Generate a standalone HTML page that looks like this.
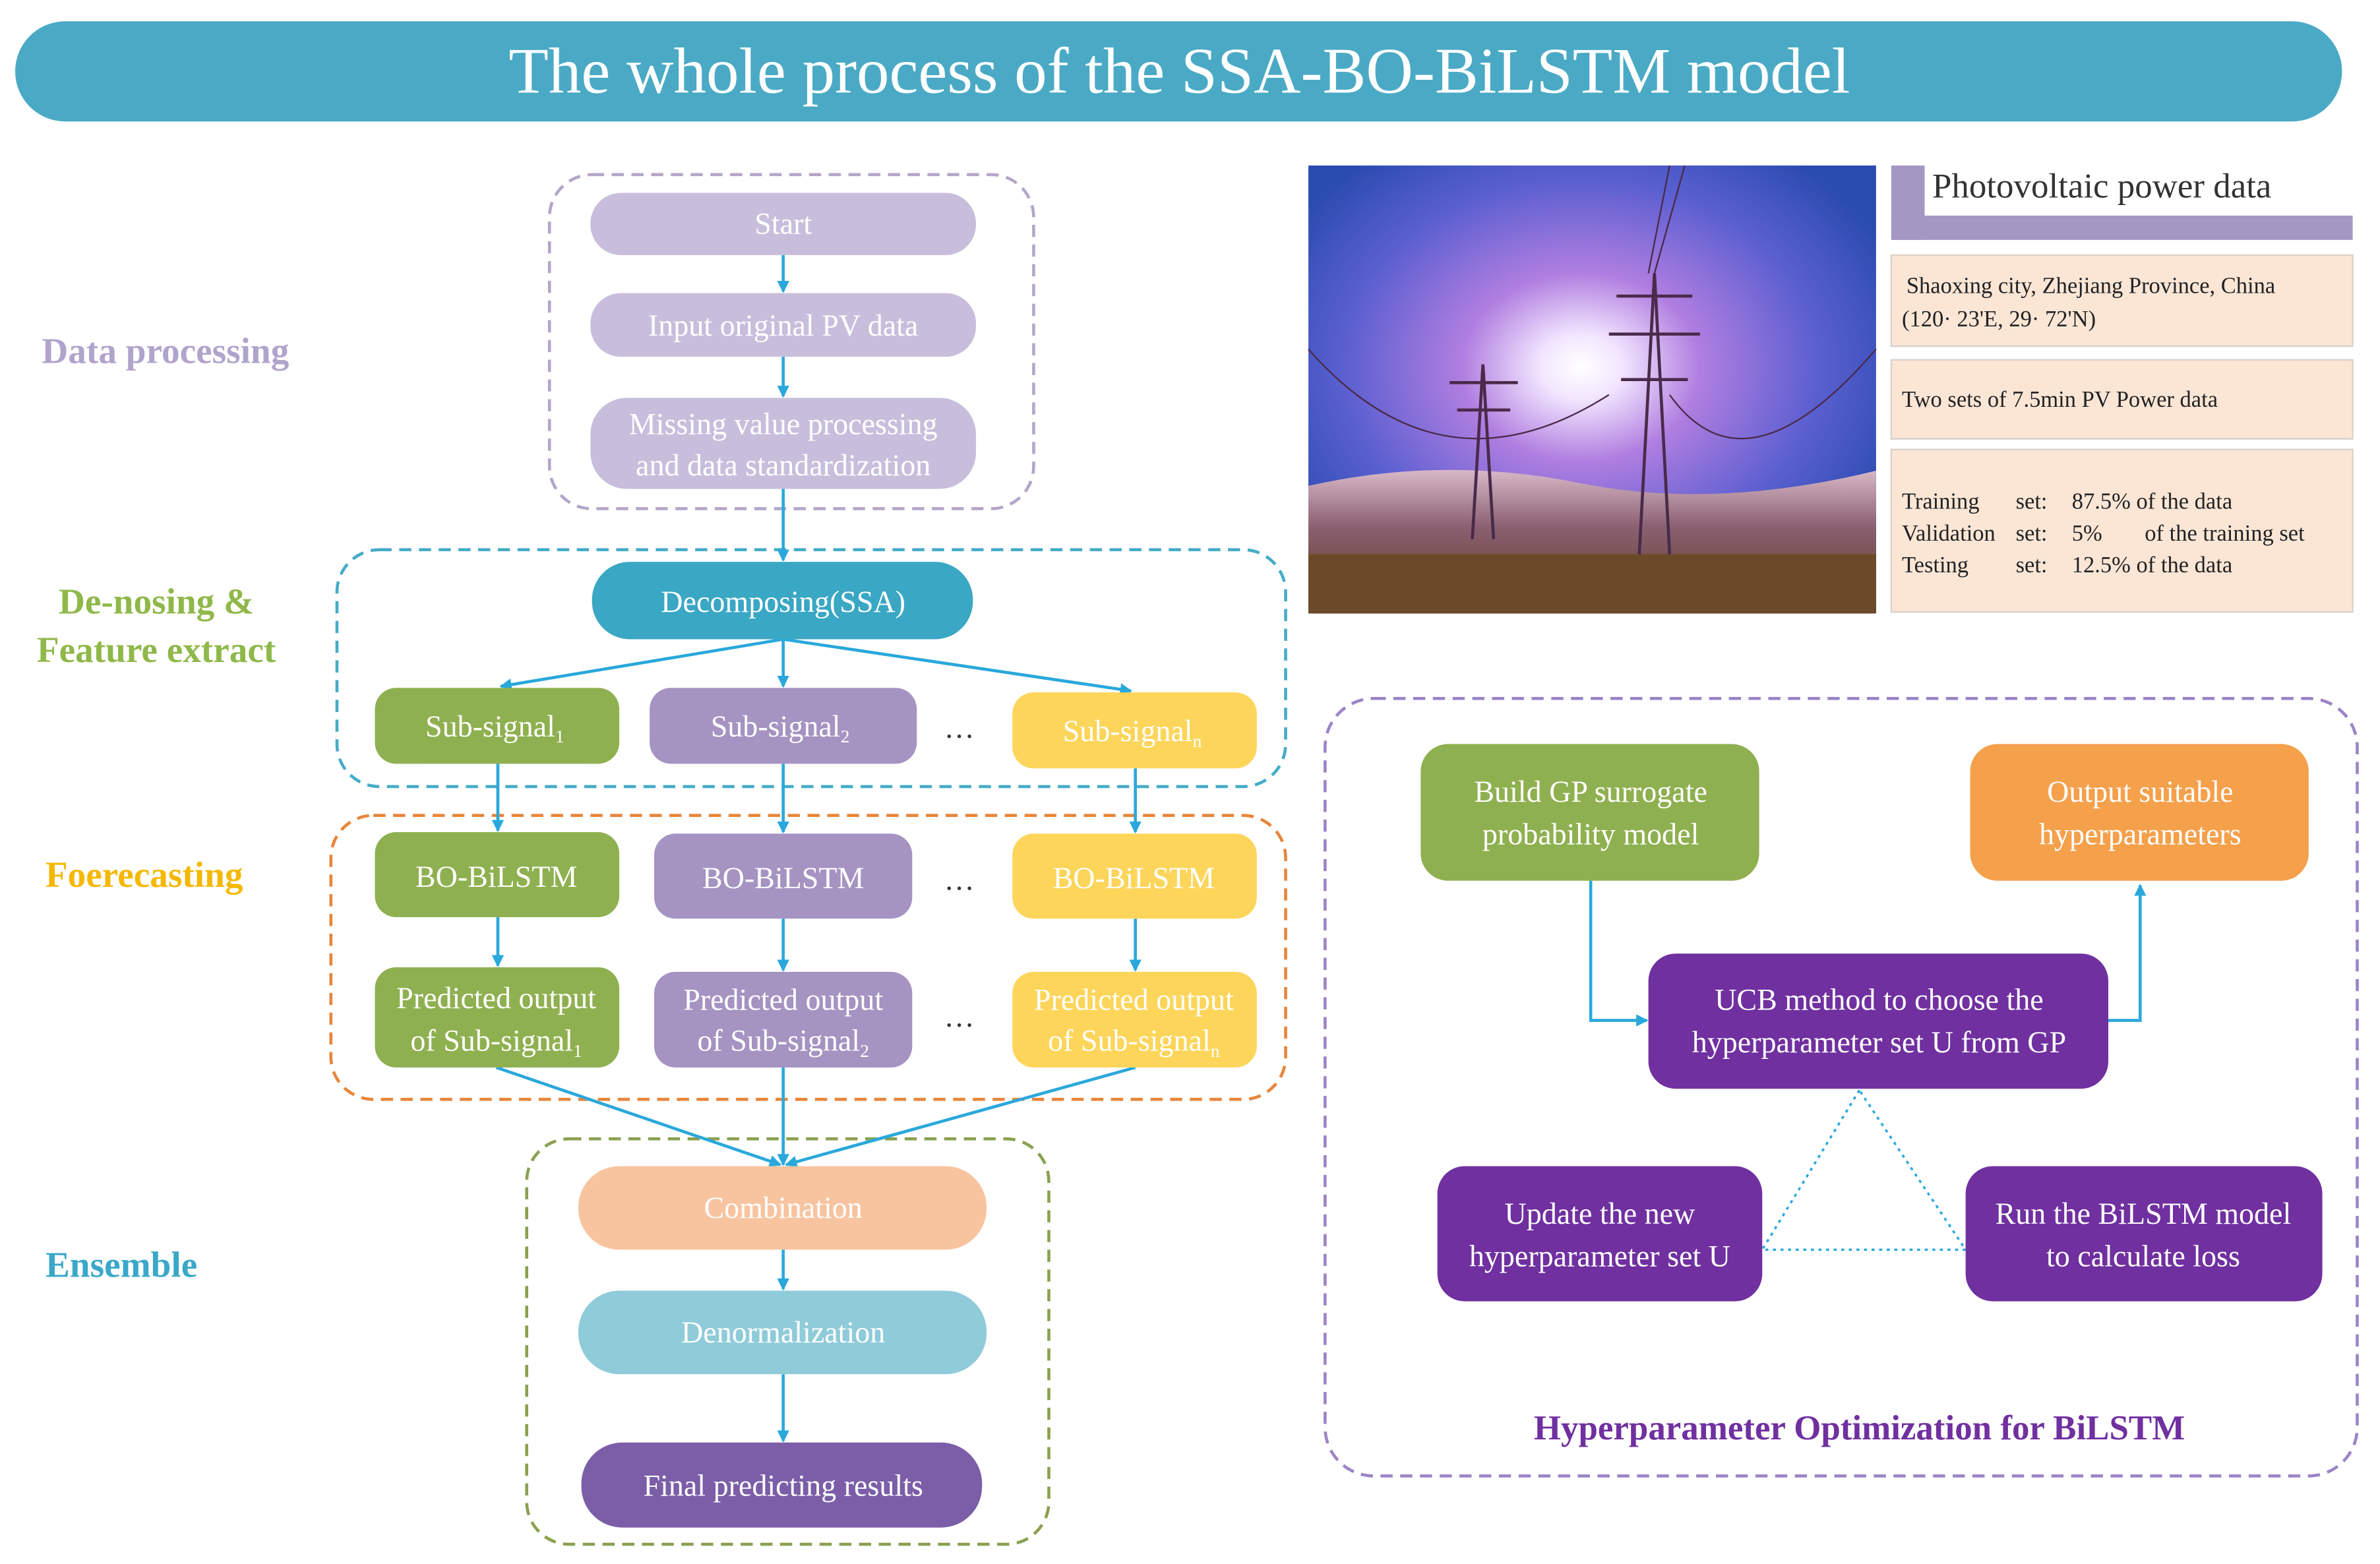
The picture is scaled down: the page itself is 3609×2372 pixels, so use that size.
<!DOCTYPE html>
<html><head><meta charset="utf-8"><style>
html,body{margin:0;padding:0;background:#fff;}
svg{display:block;}
text{font-family:"Liberation Serif",serif;}
</style></head><body>
<svg width="3609" height="2372" viewBox="0 0 1568 1030" preserveAspectRatio="none" xmlns="http://www.w3.org/2000/svg">
<defs>
<marker id="a" markerWidth="8" markerHeight="8" refX="7" refY="4" orient="auto" markerUnits="userSpaceOnUse"><path d="M0,0 L8,4 L0,8 z" fill="#29a8dc"/></marker>
<radialGradient id="sun" cx="0.48" cy="0.45" r="0.6">
<stop offset="0" stop-color="#ffffff"/><stop offset="0.12" stop-color="#f2e6ff"/><stop offset="0.35" stop-color="#b07ee0"/><stop offset="0.7" stop-color="#5a5fd0"/><stop offset="1" stop-color="#2a4bb0"/>
</radialGradient>
<linearGradient id="gnd" x1="0" y1="0" x2="0" y2="1"><stop offset="0" stop-color="#d8b8c8"/><stop offset="0.4" stop-color="#8a6070"/><stop offset="1" stop-color="#5a3a20"/></linearGradient>
</defs>
<rect width="1568" height="1030" fill="#fff"/>
<rect x="10" y="14" width="1533" height="66" rx="33" fill="#4aaac5"/>
<text x="777" y="61" font-size="43" fill="#fff" text-anchor="middle">The whole process of the SSA-BO-BiLSTM model</text>

<g font-weight="bold" font-size="24" text-anchor="middle">
<text x="109" y="239" fill="#b0a4cc">Data processing</text>
<text x="103" y="404" fill="#8fb84a">De-nosing &amp;</text>
<text x="103" y="436" fill="#8fb84a">Feature extract</text>
<text x="95" y="584" fill="#f5b800">Foerecasting</text>
<text x="80" y="841" fill="#3aa8c8">Ensemble</text>
</g>

<g fill="none" stroke-width="2" stroke-dasharray="8,5">
<rect x="362" y="115" width="319" height="220" rx="28" stroke="#b3a6c8"/>
<rect x="222" y="362" width="625" height="156" rx="28" stroke="#45acc8"/>
<rect x="218" y="537" width="629" height="187" rx="28" stroke="#e8853a"/>
<rect x="347" y="750" width="344" height="267" rx="28" stroke="#8aa050"/>
<rect x="873" y="460" width="680" height="512" rx="32" stroke="#9b84c6"/>
</g>

<g stroke="#29a8dc" stroke-width="2" fill="none" marker-end="url(#a)">
<line x1="516" y1="168" x2="516" y2="192"/>
<line x1="516" y1="235" x2="516" y2="261"/>
<line x1="516" y1="322" x2="516" y2="369"/>
<line x1="516" y1="421" x2="330" y2="452"/>
<line x1="516" y1="421" x2="516" y2="452"/>
<line x1="516" y1="421" x2="745" y2="455"/>
<line x1="328" y1="503" x2="328" y2="547"/>
<line x1="516" y1="503" x2="516" y2="548"/>
<line x1="748" y1="506" x2="748" y2="548"/>
<line x1="328" y1="604" x2="328" y2="636"/>
<line x1="516" y1="605" x2="516" y2="639"/>
<line x1="748" y1="605" x2="748" y2="639"/>
<line x1="327" y1="703" x2="514" y2="767"/>
<line x1="516" y1="703" x2="516" y2="767"/>
<line x1="748" y1="703" x2="518" y2="767"/>
<line x1="516" y1="823" x2="516" y2="849"/>
<line x1="516" y1="905" x2="516" y2="949"/>
<polyline points="1048,580 1048,672 1085,672"/>
<polyline points="1389,672 1410,672 1410,583"/>
</g>
<g stroke="#29a8dc" stroke-width="1.5" fill="none" stroke-dasharray="2,3">
<polygon points="1225,718 1161,823 1295,823"/>
</g>

<g font-size="20" fill="#fff" text-anchor="middle">
<rect x="389" y="127" width="254" height="41" rx="20" fill="#c8bedc"/><text x="516" y="154">Start</text>
<rect x="389" y="193" width="254" height="42" rx="20" fill="#c8bedc"/><text x="516" y="221">Input original PV  data</text>
<rect x="389" y="262" width="254" height="60" rx="24" fill="#c8bedc"/><text x="516" y="286">Missing value processing</text><text x="516" y="313">and data standardization</text>
<rect x="390" y="370" width="251" height="51" rx="25" fill="#3aa7c4"/><text x="516" y="403">Decomposing(SSA)</text>

<rect x="247" y="453" width="161" height="50" rx="14" fill="#8fb050"/><text x="326" y="485">Sub-signal<tspan font-size="12" dy="4">1</tspan></text>
<rect x="428" y="453" width="176" height="50" rx="14" fill="#a593c2"/><text x="514" y="485">Sub-signal<tspan font-size="12" dy="4">2</tspan></text>
<rect x="667" y="456" width="161" height="50" rx="14" fill="#fcd55a"/><text x="746" y="488">Sub-signal<tspan font-size="12" dy="4">n</tspan></text>

<rect x="247" y="548" width="161" height="56" rx="14" fill="#8fb050"/><text x="327" y="584">BO-BiLSTM</text>
<rect x="431" y="549" width="170" height="56" rx="14" fill="#a593c2"/><text x="516" y="585">BO-BiLSTM</text>
<rect x="667" y="549" width="161" height="56" rx="14" fill="#fcd55a"/><text x="747" y="585">BO-BiLSTM</text>

<rect x="247" y="637" width="161" height="66" rx="14" fill="#8fb050"/><text x="327" y="664">Predicted output</text><text x="327" y="692">of Sub-signal<tspan font-size="12" dy="4">1</tspan></text>
<rect x="431" y="640" width="170" height="63" rx="14" fill="#a593c2"/><text x="516" y="665">Predicted output</text><text x="516" y="692">of Sub-signal<tspan font-size="12" dy="4">2</tspan></text>
<rect x="667" y="640" width="161" height="63" rx="14" fill="#fcd55a"/><text x="747" y="665">Predicted output</text><text x="747" y="692">of Sub-signal<tspan font-size="12" dy="4">n</tspan></text>

<rect x="381" y="768" width="269" height="55" rx="27" fill="#f8c4a0"/><text x="516" y="802">Combination</text>
<rect x="381" y="850" width="269" height="55" rx="27" fill="#8fcbd9"/><text x="516" y="884">Denormalization</text>
<rect x="383" y="950" width="264" height="56" rx="27" fill="#7b5ea7"/><text x="516" y="985">Final predicting results</text>

<rect x="936" y="490" width="223" height="90" rx="18" fill="#8fb050"/><text x="1048" y="528">Build GP surrogate</text><text x="1048" y="556">probability model</text>
<rect x="1298" y="490" width="223" height="90" rx="18" fill="#f5a04a"/><text x="1410" y="528">Output suitable</text><text x="1410" y="556">hyperparameters</text>
<rect x="1086" y="628" width="303" height="89" rx="18" fill="#7030a0"/><text x="1238" y="665">UCB method to choose the</text><text x="1238" y="693">hyperparameter set U from GP</text>
<rect x="947" y="768" width="214" height="89" rx="18" fill="#7030a0"/><text x="1054" y="806">Update the new</text><text x="1054" y="834">hyperparameter set U</text>
<rect x="1295" y="768" width="235" height="89" rx="18" fill="#7030a0"/><text x="1412" y="806">Run the BiLSTM model</text><text x="1412" y="834">to calculate loss</text>
</g>
<g font-size="20" fill="#333" text-anchor="middle">
<text x="632" y="486">…</text><text x="632" y="586">…</text><text x="632" y="676">…</text>
</g>
<text x="1225" y="948" font-size="23" font-weight="bold" fill="#7030a0" text-anchor="middle">Hyperparameter Optimization for BiLSTM</text>

<!-- photo -->
<rect x="862" y="109" width="374" height="295" fill="url(#sun)"/>
<path d="M862,320 Q950,300 1040,318 T1236,310 L1236,404 L862,404 z" fill="url(#gnd)"/>
<rect x="862" y="365" width="374" height="39" fill="#6a4a28"/>
<g stroke="#4a2a4a" stroke-width="2" fill="none">
<line x1="1090" y1="180" x2="1080" y2="365"/><line x1="1090" y1="180" x2="1100" y2="365"/>
<line x1="1065" y1="195" x2="1115" y2="195"/><line x1="1060" y1="220" x2="1120" y2="220"/><line x1="1068" y1="250" x2="1112" y2="250"/>
<line x1="977" y1="240" x2="970" y2="355"/><line x1="977" y1="240" x2="984" y2="355"/>
<line x1="955" y1="252" x2="1000" y2="252"/><line x1="960" y1="270" x2="995" y2="270"/>
<path d="M862,230 Q950,330 1060,260" stroke-width="1"/><path d="M1236,230 Q1150,330 1100,260" stroke-width="1"/>
<line x1="1090" y1="180" x2="1110" y2="109" stroke-width="1"/><line x1="1086" y1="180" x2="1100" y2="109" stroke-width="1"/>
</g>

<!-- right panel -->
<rect x="1246" y="109" width="22" height="49" fill="#a597c4"/>
<rect x="1246" y="142" width="304" height="16" fill="#a597c4"/>
<text x="1273" y="130" font-size="23" fill="#333">Photovoltaic power data</text>
<g fill="#fbe6d6" stroke="#d8d0c8" stroke-width="1">
<rect x="1246" y="168" width="304" height="60"/>
<rect x="1246" y="237" width="304" height="52"/>
<rect x="1246" y="296" width="304" height="107"/>
</g>
<g font-size="15" fill="#222">
<text x="1256" y="193">Shaoxing city, Zhejiang Province, China</text>
<text x="1253" y="215">(120· 23'E, 29· 72'N)</text>
<text x="1253" y="268">Two sets of 7.5min PV Power data</text>
<text x="1253" y="335">Training</text><text x="1328" y="335">set:</text><text x="1365" y="335">87.5% of the data</text>
<text x="1253" y="356">Validation</text><text x="1328" y="356">set:</text><text x="1365" y="356">5%</text><text x="1413" y="356">of the training set</text>
<text x="1253" y="377">Testing</text><text x="1328" y="377">set:</text><text x="1365" y="377">12.5% of the data</text>
</g>
</svg>
</body></html>
